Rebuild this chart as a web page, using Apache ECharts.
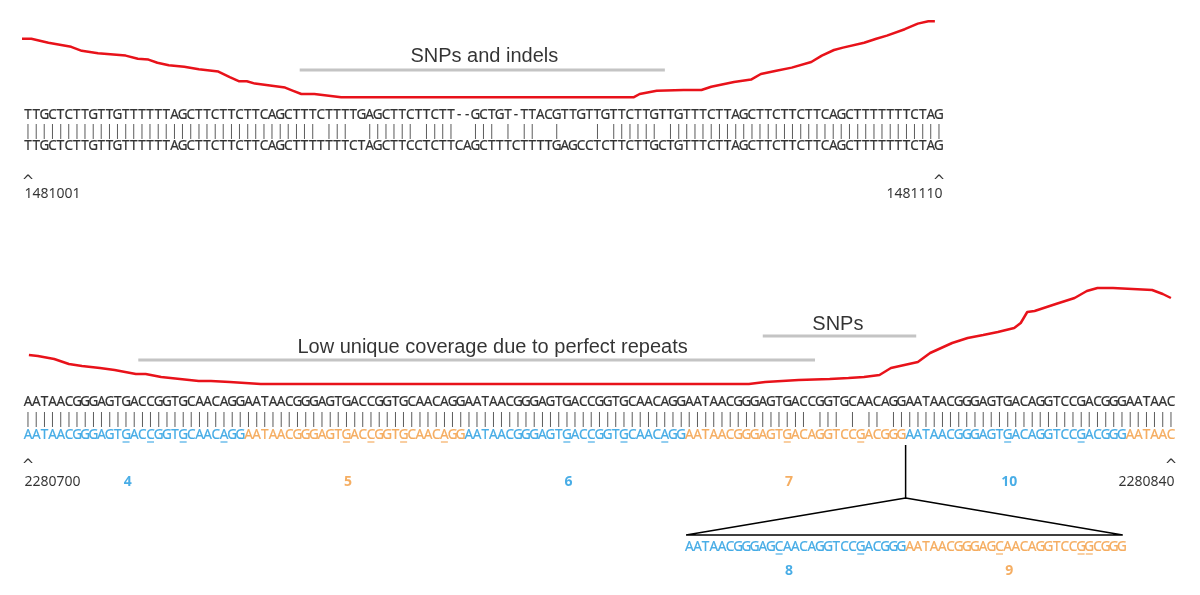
<!DOCTYPE html>
<html><head><meta charset="utf-8">
<script src="https://cdn.jsdelivr.net/npm/echarts/dist/echarts.min.js"></script>
<style>html,body{margin:0;padding:0;background:#fff}#c{width:1200px;height:595px}</style>
</head><body><div id="c"></div>
<script>
// ---------- data: top panel ----------
const topSeqA = "TTGCTCTTGTTGTTTTTTAGCTTCTTCTTCAGCTTTCTTTTGAGCTTCTTCTT--GCTGT-TTACGTTGTTGTTCTTGTTGTTTCTTAGCTTCTTCTTCAGCTTTTTTTCTAG";
const topSeqB = "TTGCTCTTGTTGTTTTTTAGCTTCTTCTTCAGCTTTTTTTCTAGCTTCCTCTTCAGCTTTCTTTTGAGCCTCTTCTTGCTGTTTCTTAGCTTCTTCTTCAGCTTTTTTTCTAG";
const topPosLabels = ["1481001", "1481110"];
const topCovPos   = [-0.9,0.4,2.5,5.3,6.6,8.6,12.0,13.5,14.8,15.9,17.3,19.2,21.0,23.4,24.8,25.9,26.9,27.9,31.6,32.6,33.6,35.2,38.5,74.5,75.2,77.3,80.6,82.8,84.0,86.8,88.9,90.1,92.0,93.9,96.3,97.6,99.1,100.2,102.8,104.3,105.6,107.8,109.4,110.7,111.5];
const topCovDepth = [74,74,69,64,59,56,53,49,48,44,41,39,36,33,26,21,21,18,13,9,5,5,1,1,5,9,10,10,14,20,23,30,34,38,45,53,60,63,69,74,78,86,93,96,96];
const topAnnoText  = ["SNPs and indels"];
const topAnnoFrom  = [33.4];
const topAnnoTo    = [78.3];
const topAnnoLevel = [35];

// ---------- data: bottom panel ----------
const botSeqA = "AATAACGGGAGTGACCGGTGCAACAGGAATAACGGGAGTGACCGGTGCAACAGGAATAACGGGAGTGACCGGTGCAACAGGAATAACGGGAGTGACCGGTGCAACAGGAATAACGGGAGTGACAGGTCCGACGGGAATAAC";
const botSegText  = ["AATAACGGGAGTGACCGGTGCAACAGG","AATAACGGGAGTGACCGGTGCAACAGG","AATAACGGGAGTGACCGGTGCAACAGG","AATAACGGGAGTGACAGGTCCGACGGG","AATAACGGGAGTGACAGGTCCGACGGG","AATAAC"];
const botSegColor = ["blue","orange","blue","orange","blue","orange"];
const botSegLabel = ["4","5","6","7","10",""];
const botSegUnder = [[12,15,19,24],[12,15,19,24],[12,15,19,24],[12,21],[12,21],[]];
const botPosLabels = ["2280700", "2280840"];
const insetSegText  = ["AATAACGGGAGCAACAGGTCCGACGGG","AATAACGGGAGCAACAGGTCCGGCGGG"];
const insetSegColor = ["blue","orange"];
const insetSegLabel = ["8","9"];
const insetSegUnder = [[11,21],[11,21,22]];
const botCovPos   = [0.1,1.2,3.2,5.0,6.6,8.8,10.6,13.2,14.4,16.3,18.6,20.9,22.4,24.7,28.5,88.3,90.3,94.4,98.2,100.5,102.4,104.3,105.7,109.0,110.5,113.2,115.1,117.0,118.8,120.8,121.6,122.4,123.3,125.9,128.2,129.7,131.0,132.9,137.7,139.0,140.0];
const botCovDepth = [29,28,25,20,18,16,14,10,10,7,5,3,3,2,0,0,2,4,5,6,7,9,16,22,31,41,46,49,52,56,61,72,73,80,86,93,96,96,94,90,86];
const botAnnoText  = ["Low unique coverage due to perfect repeats", "SNPs"];
const botAnnoFrom  = [13.5, 90.0];
const botAnnoTo    = [96.4, 108.8];
const botAnnoLevel = [24, 48];

// ---------- styles / layout ----------
const COLORS = {blue:'#1b98e0', orange:'#f29a3c'};
const RED = '#e8121a', GRAY = '#c4c4c4', INK = '#000';
const SEQ_FONT = 'Noto Sans', SEQ_SIZE = 13.5;
const TOP_ROW = {seqA:15, match:31, seqB:46, caret:82, pos:94};
const BOT_ROW = {seqA:17, match:34, seqB:50, under:57, caret:81, pos:97, inset:162, insetUnder:169, insetLab:186, connTop:60, connMid:113, connBot:150};
const INSET_OFFSET = 81;          // inset drawn under bottom-panel column 81
const INSET_EDGE = [80.6, 134.1];
const JOIN_COL = 107.5;           // boundary between repeat 7 and repeat 10

const matchOf = (a,b) => a.split('').map((c,i)=> c===b[i] ? '|' : ' ').join('');

function textSeries(axis, seq, row, colorAt, offset, extra){
  const data = [];
  for (let i=0;i<seq.length;i++){
    const ch = seq[i]; if (ch===' ') continue;
    const c = colorAt ? colorAt(i) : INK;
    data.push({value:[i+offset,row], ch:ch, label:{color:c, textBorderColor:c}});
  }
  return {type:'scatter', xAxisIndex:axis, yAxisIndex:axis, symbolSize:1, silent:true,
    itemStyle:{color:'rgba(0,0,0,0)'}, data:data,
    label:Object.assign({show:true, position:'inside', formatter:p=>p.data.ch, fontFamily:SEQ_FONT, fontSize:SEQ_SIZE,
      color:INK, textBorderWidth:0.2}, extra||{})};
}
function pointLabel(axis, x, y, text, lab){
  return {type:'scatter', xAxisIndex:axis, yAxisIndex:axis, symbolSize:1, silent:true,
    itemStyle:{color:'rgba(0,0,0,0)'}, data:[{value:[x,y]}],
    label:Object.assign({show:true, position:'inside', formatter:text, fontFamily:SEQ_FONT, fontSize:14, color:'#000'}, lab||{})};
}
function segInfo(texts, colors, unders, labels){
  let seq='', col=[], und=[], labs=[], start=0;
  texts.forEach((t,k)=>{
    seq += t;
    for (let i=0;i<t.length;i++) col.push(COLORS[colors[k]]);
    unders[k].forEach(u=>und.push({value:[start+u], color:COLORS[colors[k]]}));
    if (labels[k]) labs.push({pos:start + t.length/2 - 1.3, text:labels[k], color:COLORS[colors[k]]});
    start += t.length;
  });
  return {seq, col, und, labs};
}

const ANNO_LAB = {fontFamily:'Liberation Sans', fontSize:20, color:'#000'};
const CARET_LAB = {fontFamily:'DejaVu Sans', fontSize:15};
const series = [];
// --- top coverage + annotation
series.push({type:'line', xAxisIndex:0, yAxisIndex:0, data: topCovPos.map((x,i)=>[x, topCovDepth[i]]),
  showSymbol:false, clip:false, lineStyle:{color:RED, width:2.5}, silent:true});
topAnnoText.forEach((t,k)=>{
  series.push({type:'line', xAxisIndex:0, yAxisIndex:0, data:[[topAnnoFrom[k],topAnnoLevel[k]],[topAnnoTo[k],topAnnoLevel[k]]],
    showSymbol:false, lineStyle:{color:GRAY, width:3}, silent:true});
  series.push(pointLabel(0, 56.1, 52.5, t, ANNO_LAB));
});
// --- top text
const topLen = topSeqA.length;
series.push(textSeries(1, topSeqA, TOP_ROW.seqA, null, 0));
series.push(textSeries(1, matchOf(topSeqA, topSeqB), TOP_ROW.match, ()=> '#333', 0, {textBorderWidth:0}));
series.push(textSeries(1, topSeqB, TOP_ROW.seqB, null, 0));
series.push(pointLabel(1, 0, TOP_ROW.caret, '^', CARET_LAB));
series.push(pointLabel(1, topLen-1, TOP_ROW.caret, '^', CARET_LAB));
series.push(pointLabel(1, -0.5, TOP_ROW.pos, topPosLabels[0], {position:'right', distance:0}));
series.push(pointLabel(1, topLen-0.5, TOP_ROW.pos, topPosLabels[1], {position:'left', distance:0}));

// --- bottom coverage + annotations
series.push({type:'line', xAxisIndex:2, yAxisIndex:2, data: botCovPos.map((x,i)=>[x, botCovDepth[i]]),
  showSymbol:false, clip:false, lineStyle:{color:RED, width:2.5}, silent:true});
const botAnnoCenter = [56.9, 99.2], botAnnoTextLevel = [37, 60];
botAnnoText.forEach((t,k)=>{
  series.push({type:'line', xAxisIndex:2, yAxisIndex:2, data:[[botAnnoFrom[k],botAnnoLevel[k]],[botAnnoTo[k],botAnnoLevel[k]]],
    showSymbol:false, lineStyle:{color:GRAY, width:3}, silent:true});
  series.push(pointLabel(2, botAnnoCenter[k], botAnnoTextLevel[k], t, ANNO_LAB));
});
// --- bottom text
const bot = segInfo(botSegText, botSegColor, botSegUnder, botSegLabel);
const botLen = botSeqA.length;
series.push(textSeries(3, botSeqA, BOT_ROW.seqA, null, 0));
series.push(textSeries(3, matchOf(botSeqA, bot.seq), BOT_ROW.match, ()=> '#333', 0, {textBorderWidth:0}));
series.push(textSeries(3, bot.seq, BOT_ROW.seqB, i=>bot.col[i], 0));
function underSeries(und, row, offset){
  return {type:'scatter', xAxisIndex:3, yAxisIndex:3, symbol:'rect', symbolSize:[7,1.2], silent:true,
    data: und.map(u=>({value:[u.value[0]+offset,row], itemStyle:{color:u.color}}))};
}
series.push(underSeries(bot.und, BOT_ROW.under, 0));
series.push(pointLabel(3, 0, BOT_ROW.caret, '^', CARET_LAB));
series.push(pointLabel(3, botLen-1, BOT_ROW.caret, '^', CARET_LAB));
series.push(pointLabel(3, -0.5, BOT_ROW.pos, botPosLabels[0], {position:'right', distance:0}));
series.push(pointLabel(3, botLen-0.5, BOT_ROW.pos, botPosLabels[1], {position:'left', distance:0}));
bot.labs.forEach(l=> series.push(pointLabel(3, l.pos, BOT_ROW.pos, l.text, {fontWeight:'bold', fontSize:14, color:l.color})));
// --- inset
const ins = segInfo(insetSegText, insetSegColor, insetSegUnder, insetSegLabel);
series.push(textSeries(3, ins.seq, BOT_ROW.inset, i=>ins.col[i], INSET_OFFSET));
series.push(underSeries(ins.und, BOT_ROW.insetUnder, INSET_OFFSET));
ins.labs.forEach(l=> series.push(pointLabel(3, l.pos+INSET_OFFSET, BOT_ROW.insetLab, l.text, {fontWeight:'bold', fontSize:14, color:l.color})));
series.push({type:'line', xAxisIndex:3, yAxisIndex:3, showSymbol:false, silent:true, lineStyle:{color:INK, width:1.5},
  data:[[JOIN_COL, BOT_ROW.connTop],[JOIN_COL, BOT_ROW.connMid]]});
series.push({type:'line', xAxisIndex:3, yAxisIndex:3, showSymbol:false, silent:true, lineStyle:{color:INK, width:1.5},
  data:[[INSET_EDGE[0], BOT_ROW.connBot],[JOIN_COL, BOT_ROW.connMid],[INSET_EDGE[1], BOT_ROW.connBot],[INSET_EDGE[0], BOT_ROW.connBot]]});

const hidden = {show:false};
const chart = echarts.init(document.getElementById('c'), null, {renderer:'canvas'});
chart.setOption({
  animation:false,
  grid:[
    {left:24, width:919, top:18, height:80},
    {left:24, width:919, top:100, height:110},
    {left:24, width:1151, top:284, height:100},
    {left:24, width:1151, top:385, height:200}
  ],
  xAxis:[
    Object.assign({type:'value', gridIndex:0, min:-0.5, max:topLen-0.5}, hidden),
    Object.assign({type:'value', gridIndex:1, min:-0.5, max:topLen-0.5}, hidden),
    Object.assign({type:'value', gridIndex:2, min:-0.5, max:botLen-0.5}, hidden),
    Object.assign({type:'value', gridIndex:3, min:-0.5, max:botLen-0.5}, hidden)
  ],
  yAxis:[
    Object.assign({type:'value', gridIndex:0, min:0, max:100}, hidden),
    Object.assign({type:'value', gridIndex:1, min:0, max:110, inverse:true}, hidden),
    Object.assign({type:'value', gridIndex:2, min:0, max:100}, hidden),
    Object.assign({type:'value', gridIndex:3, min:0, max:200, inverse:true}, hidden)
  ],
  series:series
});
</script></body></html>
